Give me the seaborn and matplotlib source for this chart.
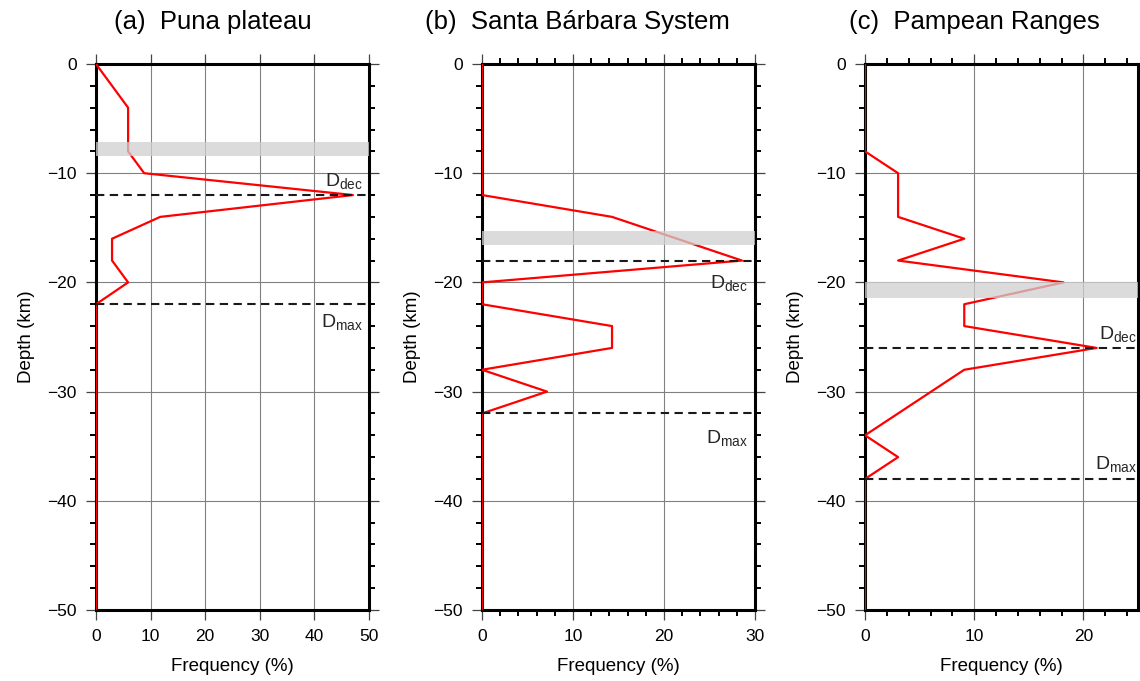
import matplotlib
matplotlib.use('Agg')
import matplotlib.pyplot as plt
import seaborn as sns
import pandas as pd
from matplotlib.ticker import MultipleLocator

# ---------------- data ----------------
depth = [0, -2, -4, -6, -8, -10, -12, -14, -16, -18, -20, -22, -24, -26,
         -28, -30, -32, -34, -36, -38, -40, -42, -44, -46, -48, -50]

freq_puna = [0, 2.94, 5.88, 5.88, 5.88, 8.82, 47.06, 11.76, 2.94, 2.94, 5.88, 0,
             0, 0, 0, 0, 0, 0, 0, 0, 0, 0, 0, 0, 0, 0]
freq_sbs = [0, 0, 0, 0, 0, 0, 0, 14.29, 21.43, 28.57, 0, 0, 14.29, 14.29,
            0, 7.14, 0, 0, 0, 0, 0, 0, 0, 0, 0, 0]
freq_pamp = [0, 0, 0, 0, 0, 3.03, 3.03, 3.03, 9.09, 3.03, 18.18, 9.09, 9.09, 21.21,
             9.09, 6.06, 3.03, 0, 3.03, 0, 0, 0, 0, 0, 0, 0]

titles = ["(a)  Puna plateau", "(b)  Santa Bárbara System", "(c)  Pampean Ranges"]
xmax_list = [50, 30, 25]
bands = [(-7.1, -8.4), (-15.3, -16.6), (-20.0, -21.4)]
d_dec = [-12, -18, -26]
d_max = [-22, -32, -38]

# ---------------- style ----------------
sns.set_theme(style='white')
plt.rcParams['font.family'] = ['Liberation Sans', 'DejaVu Sans']
plt.rcParams['mathtext.fontset'] = 'custom'
plt.rcParams['mathtext.rm'] = 'Liberation Sans'
plt.rcParams['mathtext.it'] = 'Liberation Sans'
plt.rcParams['axes.unicode_minus'] = True

W, H = 1140, 681
fig = plt.figure(figsize=(W / 100, H / 100), dpi=100)

lefts = [96, 482, 865]
title_cx = [213, 577, 974]
x_minor = [None, 2, 2]
label_xfrac = [0.978, 0.975, 0.997]
# (offset, va) for D_dec and D_max labels
dec_pos = [(0.37, 'bottom'), (-1.15, 'top'), (0.36, 'bottom')]
max_pos = [(-0.7, 'top'), (-1.3, 'top'), (0.43, 'bottom')]

freqs = [freq_puna, freq_sbs, freq_pamp]

for i in range(3):
    ax = fig.add_axes([lefts[i] / W, 71 / H, 273 / W, 546 / H])
    df = pd.DataFrame({'depth': depth, 'freq': freqs[i]})
    sns.lineplot(data=df, x='freq', y='depth', orient='y', sort=False,
                 estimator=None, color='#ff0000', lw=1.6, ax=ax, zorder=3)
    ax.set_xlim(0, xmax_list[i])
    ax.set_ylim(-50, 0)
    ax.xaxis.set_major_locator(MultipleLocator(10))
    ax.yaxis.set_major_locator(MultipleLocator(10))
    ax.yaxis.set_minor_locator(MultipleLocator(2))
    if x_minor[i]:
        ax.xaxis.set_minor_locator(MultipleLocator(x_minor[i]))
    ax.grid(True, which='major', color='#808080', lw=0.8)
    ax.axhspan(bands[i][0], bands[i][1], color='#d0d0d0', alpha=0.75, lw=0, zorder=4)
    for y in (d_dec[i], d_max[i]):
        ax.axhline(y, color='k', ls=(0, (4, 2.6)), lw=1.5, zorder=5)
    xl = xmax_list[i] * label_xfrac[i]
    off, va = dec_pos[i]
    ax.text(xl, d_dec[i] + off, r'$\mathrm{D_{dec}}$', ha='right', va=va,
            fontsize=14, zorder=6)
    off, va = max_pos[i]
    ax.text(xl, d_max[i] + off, r'$\mathrm{D_{max}}$', ha='right', va=va,
            fontsize=14, zorder=6)
    for s in ax.spines.values():
        s.set_linewidth(2.2)
        s.set_color('black')
        s.set_zorder(2.5)
    ax.tick_params(which='major', direction='out', length=7, width=0.9,
                   color='#444444', top=True, right=True, left=True, bottom=True,
                   labeltop=False, labelright=False, labelsize=12.5, pad=7,
                   labelcolor='black')
    ax.tick_params(which='minor', direction='out', length=4, width=1.4,
                   color='black', top=True, right=True, left=True, bottom=True)
    ax.set_xlabel('Frequency (%)', fontsize=13.5, labelpad=10, color='black')
    ax.set_ylabel('Depth (km)', fontsize=13.5, labelpad=9, color='black')
    fig.text(title_cx[i] / W, 1 - 22 / H, titles[i], ha='center', va='center',
             fontsize=18.5, color='black')

fig.savefig('out.png', dpi=100)
